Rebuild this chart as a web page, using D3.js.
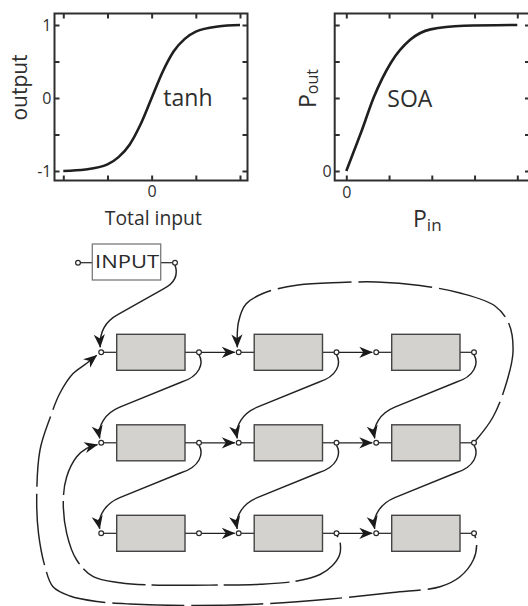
<!DOCTYPE html>
<html>
<head>
<meta charset="utf-8">
<script src="https://cdn.jsdelivr.net/npm/d3@7"></script>
<style>
  body { margin: 0; background: #fff; }
  svg { display: block; }
</style>
</head>
<body>
<div id="fig"></div>
<script>
// ---- panel data ----
const tanhIn  = [-2, -1.5, -1, -0.75, -0.5, -0.25, 0, 0.25, 0.5, 0.75, 1, 1.5, 2];
const tanhOut = [-1.0, -0.98, -0.91, -0.81, -0.64, -0.36, 0, 0.36, 0.64, 0.81, 0.91, 0.98, 1.0];
const tanhXTicks = [-2, -1, 0, 1, 2];
const tanhXTickLabels = ["", "", "0", "", ""];
const tanhYTicks = [-1, -0.5, 0, 0.5, 1];
const tanhYTickLabels = ["-1", "", "0", "", "1"];

const soaIn  = [0, 0.17, 0.34, 0.65, 1.04, 1.5, 1.97, 2.75, 4];
const soaOut = [0, 0.13, 0.26, 0.51, 0.74, 0.90, 0.97, 0.995, 1.0];
const soaXTicks = [0, 1, 2, 3, 4];
const soaXTickLabels = ["0", "", "", "", ""];
const soaYTicks = [0, 0.25, 0.5, 0.75, 1];
const soaYTickLabels = ["0", "", "", "", ""];

// ---- reservoir network ----
const rows = [0, 1, 2];
const cols = [0, 1, 2];
// output of (row, col) -> input of (row, col + 1)
const rightLinks = [[0, 0], [0, 1], [1, 0], [1, 1], [2, 0], [2, 1]];
// output of (row, col) -> input of (row + 1, col)
const downLinks = [[0, 0], [0, 1], [0, 2], [1, 0], [1, 1], [1, 2]];
// long dashed feedback loops: from output [row, col] to input [row, col]
const loops = [
  { from: [1, 2], to: [0, 1] },
  { from: [2, 2], to: [0, 0] },
  { from: [2, 1], to: [1, 0] }
];
const inputLabel = "INPUT";

const W = 528, H = 606;
const ink = "#2e2e2e";
const line = "#222";
const FONT = "'Open Sans', 'Noto Sans', sans-serif";

const svg = d3.select("#fig").append("svg")
  .attr("width", W)
  .attr("height", H);

// arrow head (stealth shape), tip at the path end
svg.append("defs").append("marker")
  .attr("id", "head")
  .attr("viewBox", "-14 -7 15 14")
  .attr("refX", 0).attr("refY", 0)
  .attr("markerUnits", "userSpaceOnUse")
  .attr("markerWidth", 15).attr("markerHeight", 14)
  .attr("orient", "auto")
  .append("path")
  .attr("d", "M0.5,0 L-13,-5.6 L-9,0 L-13,5.6 Z")
  .attr("fill", "#1a1a1a");

// ---------- the two transfer-function panels ----------
function panel(cfg) {
  const g = svg.append("g");
  const x = d3.scaleLinear().domain(cfg.xDomain).range(cfg.xRange);
  const y = d3.scaleLinear().domain(cfg.yDomain).range(cfg.yRange);
  const [fx0, fx1, fy0, fy1] = cfg.frame;

  const style = sel => {
    sel.select(".domain").remove();
    sel.attr("font-family", FONT).attr("font-size", 16);
    sel.selectAll("line").attr("stroke", ink).attr("stroke-width", 2);
    sel.selectAll("text").attr("fill", ink);
  };

  g.append("g")
    .attr("transform", `translate(0,${fy1})`)
    .call(d3.axisBottom(x).tickValues(cfg.xTicks).tickSize(-5).tickPadding(cfg.xPad)
      .tickFormat((d, i) => cfg.xLabels[i]))
    .call(style);
  g.append("g")
    .attr("transform", `translate(0,${fy0})`)
    .call(d3.axisTop(x).tickValues(cfg.xTicks).tickSize(-5).tickFormat(""))
    .call(style);
  g.append("g")
    .attr("transform", `translate(${fx0},0)`)
    .call(d3.axisLeft(y).tickValues(cfg.yTicks).tickSize(-5).tickPadding(cfg.yPad)
      .tickFormat((d, i) => cfg.yLabels[i]))
    .call(style);
  g.append("g")
    .attr("transform", `translate(${fx1},0)`)
    .call(d3.axisRight(y).tickValues(cfg.yTicks).tickSize(-5).tickFormat(""))
    .call(style);

  g.append("rect")
    .attr("x", fx0).attr("y", fy0)
    .attr("width", fx1 - fx0).attr("height", fy1 - fy0)
    .attr("fill", "none")
    .attr("stroke", ink)
    .attr("stroke-width", 2);

  g.append("path")
    .datum(cfg.xs.map((v, i) => [v, cfg.ys[i]]))
    .attr("d", d3.line().x(d => x(d[0])).y(d => y(d[1])).curve(d3.curveMonotoneX))
    .attr("fill", "none")
    .attr("stroke", "#1f1f1f")
    .attr("stroke-width", 2.6);
  return g;
}

const tanhG = panel({
  xs: tanhIn, ys: tanhOut,
  xDomain: [-2, 2], xRange: [63.3, 240],
  yDomain: [-1, 1], yRange: [171, 25],
  frame: [54.5, 247.5, 13.5, 180.5],
  xTicks: tanhXTicks, xLabels: tanhXTickLabels, xPad: 5,
  yTicks: tanhYTicks, yLabels: tanhYTickLabels, yPad: 3
});
tanhG.append("text")
  .attr("transform", "translate(26.5,87.5) rotate(-90)")
  .attr("text-anchor", "middle")
  .attr("font-family", FONT).attr("font-size", 21).attr("fill", ink)
  .text("output");
tanhG.append("text")
  .attr("x", 153.3).attr("y", 225)
  .attr("text-anchor", "middle")
  .attr("font-family", FONT).attr("font-size", 20).attr("fill", ink)
  .attr("textLength", 97).attr("lengthAdjust", "spacingAndGlyphs")
  .text("Total input");
tanhG.append("text")
  .attr("x", 163.3).attr("y", 106)
  .attr("font-family", FONT).attr("font-size", 23).attr("fill", ink)
  .text("tanh");

const soaG = panel({
  xs: soaIn, ys: soaOut,
  xDomain: [0, 4], xRange: [346.3, 517.3],
  yDomain: [0, 1], yRange: [171, 25],
  frame: [334.7, 530, 13.5, 180.5],
  xTicks: soaXTicks, xLabels: soaXTickLabels, xPad: 6,
  yTicks: soaYTicks, yLabels: soaYTickLabels, yPad: 3
});
soaG.append("text")
  .attr("x", 387.3).attr("y", 106.5)
  .attr("font-family", FONT).attr("font-size", 24).attr("fill", ink)
  .attr("textLength", 45).attr("lengthAdjust", "spacingAndGlyphs")
  .text("SOA");
const pout = soaG.append("text")
  .attr("transform", "translate(315.7,108) rotate(-90)")
  .attr("font-family", FONT).attr("fill", ink);
pout.append("tspan").attr("font-size", 23).text("P");
pout.append("tspan").attr("font-size", 16).attr("dy", 2).text("out");
const pin = soaG.append("text")
  .attr("x", 413).attr("y", 226.5)
  .attr("font-family", FONT).attr("fill", ink);
pin.append("tspan").attr("font-size", 23).text("P");
pin.append("tspan").attr("font-size", 17).attr("dy", 4.5).text("in");

// ---------- network ----------
const boxW = 68.3, boxH = 36, r = 2.4;
const gx = d3.scalePoint().domain(cols).range([116.7, 391.7]);   // box left edge
const gy = d3.scalePoint().domain(rows).range([352.3, 533.3]);   // row centre
const inX = c => gx(c) - 15.5;
const outX = c => gx(c) + boxW + 14;

const net = svg.append("g");
const lineGen = d3.line().curve(d3.curveCatmullRom.alpha(0.5));

function curvePath(d) {
  return net.append("path")
    .attr("d", d)
    .attr("fill", "none")
    .attr("stroke", line)
    .attr("stroke-width", 1.45)
    .attr("marker-end", "url(#head)");
}

// horizontal arrows
rightLinks.forEach(([rr, c]) => {
  net.append("line")
    .attr("x1", outX(c) + r).attr("y1", gy(rr))
    .attr("x2", inX(c + 1) - r - 1.5).attr("y2", gy(rr))
    .attr("stroke", line).attr("stroke-width", 1.3)
    .attr("marker-end", "url(#head)");
});

// s-shaped links down one row
downLinks.forEach(([rr, c]) => {
  const x0 = outX(c), y0 = gy(rr), x1 = inX(c), y1 = gy(rr + 1);
  const p = d3.path();
  p.moveTo(x0, y0 + r);
  p.bezierCurveTo(x0 + 5, y0 + 11, x0 + 1, y0 + 24, x0 - 18, y0 + 30);
  p.lineTo(x1 + 18.6, y1 - 35.6);
  p.bezierCurveTo(x1 + 4, y1 - 29.6, x1 - 4, y1 - 17, x1 - 1.5, y1 - 4.5);
  curvePath(p.toString());
});

// from the INPUT block to the first node
const inBox = { x: 92.3, y: 244, w: 68.4, h: 36 };
const inY = inBox.y + inBox.h / 2 + 0.7;
const inRight = inBox.x + inBox.w + 14.3;
{
  const x1 = inX(0), y1 = gy(0);
  const p = d3.path();
  p.moveTo(inRight, inY + r);
  p.bezierCurveTo(inRight + 3, inY + 11, inRight + 1, inY + 20, inRight - 12, inY + 26.5);
  p.lineTo(x1 + 17, y1 - 38);
  p.bezierCurveTo(x1 + 4, y1 - 31, x1 - 2, y1 - 20, x1 - 1, y1 - 5);
  curvePath(p.toString());
}

// feedback loops, routed round the grid
const routes = [
  c => [[c.x0 + 1.5, c.y0 - 2], [493, 417], [506.7, 382], [513, 352], [509, 324], [495, 306],
        [460, 293], [420, 285.5], [377, 282], [340, 282.5], [298, 285], [264, 293],
        [246, 304], [238.5, 322], [c.x1 - 1.4, c.y1 - 5]],
  c => [[c.x0 + 0.8, c.y0 + 2.2], [476.7, 544], [473.3, 560], [460, 576.7], [440, 586.7],
        [393, 592.5], [330, 599], [260, 604], [190, 605.5], [130, 604], [97, 601.5],
        [70, 596], [53, 586.7], [45, 566.7], [38.5, 533.3], [36.7, 500], [40, 450],
        [50, 418], [60, 393], [73.3, 373.3], [86.7, 363.3], [c.x1 - 4.5, c.y1 + 3]],
  c => [[c.x0 + 0.5, c.y0 + 2.3], [340, 542], [339.5, 555], [332, 566], [320, 574.5],
        [297, 581], [260, 584.3], [220, 585], [153, 585], [120, 582.7], [93.3, 576.7],
        [76.7, 560], [66.7, 533.3], [63.3, 500], [66.7, 476.7], [76.7, 456.7],
        [86.7, 448.3], [c.x1 - 3.7, c.y1 + 1.8]]
];
const dashes = [[74, 7], [72, 7], [66, 6]];

loops.forEach((lp, i) => {
  const ends = { x0: outX(lp.from[1]), y0: gy(lp.from[0]), x1: inX(lp.to[1]), y1: gy(lp.to[0]) };
  const path = curvePath(lineGen(routes[i](ends)));
  const L = path.node().getTotalLength();
  const [d, gap] = dashes[i];
  const P = d + gap;
  const off = (((d - L) % P) + P) % P;
  path.attr("stroke-dasharray", `${d},${gap}`).attr("stroke-dashoffset", off);
});

// short leads and boxes
rows.forEach(rr => cols.forEach(c => {
  const y = gy(rr);
  net.append("line")
    .attr("x1", inX(c)).attr("y1", y).attr("x2", gx(c)).attr("y2", y)
    .attr("stroke", line).attr("stroke-width", 1.2);
  net.append("line")
    .attr("x1", gx(c) + boxW).attr("y1", y).attr("x2", outX(c)).attr("y2", y)
    .attr("stroke", line).attr("stroke-width", 1.2);
  net.append("rect")
    .attr("x", gx(c)).attr("y", y - boxH / 2)
    .attr("width", boxW).attr("height", boxH)
    .attr("fill", "#d3d2cf")
    .attr("stroke", "#444")
    .attr("stroke-width", 1.4);
}));

// node circles
const nodes = [];
rows.forEach(rr => cols.forEach(c => {
  nodes.push([inX(c), gy(rr)], [outX(c), gy(rr)]);
}));

// INPUT block
net.append("line")
  .attr("x1", inBox.x - 14.3).attr("y1", inY).attr("x2", inBox.x).attr("y2", inY)
  .attr("stroke", line).attr("stroke-width", 1.2);
net.append("line")
  .attr("x1", inBox.x + inBox.w).attr("y1", inY).attr("x2", inRight).attr("y2", inY)
  .attr("stroke", line).attr("stroke-width", 1.2);
net.append("rect")
  .attr("x", inBox.x).attr("y", inBox.y)
  .attr("width", inBox.w).attr("height", inBox.h)
  .attr("fill", "#fff")
  .attr("stroke", "#7a7a7a")
  .attr("stroke-width", 1.3);
net.append("text")
  .attr("x", inBox.x + 2.7).attr("y", 268.3)
  .attr("font-family", FONT).attr("font-size", 18.5).attr("fill", "#2a2a2a")
  .attr("textLength", 64).attr("lengthAdjust", "spacingAndGlyphs")
  .text(inputLabel);
nodes.push([inBox.x - 14.3, inY], [inRight, inY]);

net.selectAll("circle.node")
  .data(nodes)
  .join("circle")
  .attr("class", "node")
  .attr("cx", d => d[0]).attr("cy", d => d[1])
  .attr("r", r)
  .attr("fill", "#fff")
  .attr("stroke", "#2a2a2a")
  .attr("stroke-width", 1.2);
</script>
</body>
</html>
